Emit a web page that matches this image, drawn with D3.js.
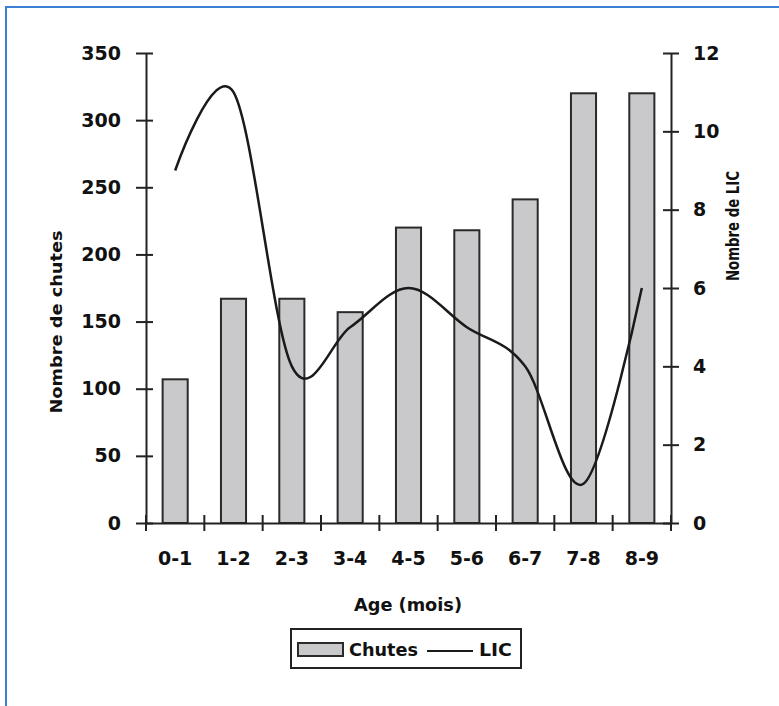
<!DOCTYPE html>
<html><head><meta charset="utf-8">
<script src="https://cdn.jsdelivr.net/npm/d3@7"></script>
<style>
html,body{margin:0;padding:0;background:#fff;}
svg{display:block;}
text{font-family:"DejaVu Sans",sans-serif;font-weight:bold;fill:#111;}
</style></head>
<body>
<svg id="chart" width="779" height="706"></svg>
<script>
const categories = ["0-1","1-2","2-3","3-4","4-5","5-6","6-7","7-8","8-9"];
const chutes = [107, 167, 167, 157, 220, 218, 241, 320, 320];
const lic = [9, 11, 4, 5, 6, 5, 4, 1, 6];
const leftTicks = [0,50,100,150,200,250,300,350];
const rightTicks = [0,2,4,6,8,10,12];

const svg = d3.select("#chart");
const L = 146, R = 671, T = 53, B = 523;

// outer border
svg.append("rect").attr("x",6).attr("y",7).attr("width",800).attr("height",800)
  .attr("fill","none").attr("stroke","#3b80d2").attr("stroke-width",2);

const x = d3.scaleBand().domain(categories).range([L,R]).paddingInner(0.57).paddingOuter(0.285);
const yL = d3.scaleLinear().domain([0,350]).range([B,T]);
const yR = d3.scaleLinear().domain([0,12]).range([B,T]);

// bars
svg.append("g").selectAll("rect").data(categories).join("rect")
  .attr("x", d => x(d))
  .attr("y", (d,i) => yL(chutes[i]))
  .attr("width", x.bandwidth())
  .attr("height", (d,i) => B - yL(chutes[i]))
  .attr("fill","#c9c9cb").attr("stroke","#2a2a2a").attr("stroke-width",2);

// line
const line = d3.line()
  .x((d,i) => x(categories[i]) + x.bandwidth()/2)
  .y(d => yR(d))
  .curve(d3.curveCardinal.tension(0));
svg.append("path").datum(lic).attr("d", line)
  .attr("fill","none").attr("stroke","#1a1a1a").attr("stroke-width",2.5);

// left axis
const gl = svg.append("g").attr("transform",`translate(${L},0)`)
  .call(d3.axisLeft(yL).tickValues(leftTicks).tickSize(0).tickPadding(25));
gl.select(".domain").attr("stroke","#222").attr("stroke-width",2);
gl.selectAll(".tick line").attr("x1",-10).attr("x2",7).attr("stroke","#222").attr("stroke-width",2);
gl.selectAll("text").style("font-size","19px");

// right axis
const gr = svg.append("g").attr("transform",`translate(${R},0)`)
  .call(d3.axisRight(yR).tickValues(rightTicks).tickSize(0).tickPadding(22));
gr.select(".domain").attr("stroke","#222").attr("stroke-width",2);
gr.selectAll(".tick line").attr("x1",-8).attr("x2",8).attr("stroke","#222").attr("stroke-width",2);
gr.selectAll("text").style("font-size","19px");

// bottom axis
const gb = svg.append("g").attr("transform",`translate(0,${B})`)
  .call(d3.axisBottom(x).tickSize(0).tickPadding(29));
gb.select(".domain").attr("stroke","#222").attr("stroke-width",2);
gb.selectAll("text").style("font-size","19px");
// boundary ticks
const bounds = categories.map(c => x(c) - x.step()*x.paddingInner()/2);
bounds.push(R);
gb.selectAll("line.bt").data(bounds).join("line").attr("class","bt")
  .attr("x1",d=>d).attr("x2",d=>d).attr("y1",-8).attr("y2",8)
  .attr("stroke","#222").attr("stroke-width",2);

// axis titles
svg.append("text").attr("transform","translate(56,322) rotate(-90)")
  .attr("text-anchor","middle").attr("dominant-baseline","central")
  .attr("textLength",183).attr("lengthAdjust","spacingAndGlyphs")
  .style("font-size","16px").text("Nombre de chutes");
svg.append("text").attr("transform","translate(733,226) rotate(-90)")
  .attr("text-anchor","middle").attr("dominant-baseline","central")
  .attr("textLength",110).attr("lengthAdjust","spacingAndGlyphs")
  .style("font-size","17px").text("Nombre de LIC");
svg.append("text").attr("x",408).attr("y",611).attr("text-anchor","middle")
  .attr("textLength",108).attr("lengthAdjust","spacingAndGlyphs")
  .style("font-size","17px").text("Age (mois)");

// legend
const lg = svg.append("g");
lg.append("rect").attr("x",291).attr("y",629).attr("width",230).attr("height",39)
  .attr("fill","#fff").attr("stroke","#222").attr("stroke-width",2);
lg.append("rect").attr("x",298).attr("y",643).attr("width",45).attr("height",13)
  .attr("fill","#c9c9cb").attr("stroke","#2a2a2a").attr("stroke-width",2);
lg.append("text").attr("x",349).attr("y",656)
  .attr("textLength",69).attr("lengthAdjust","spacingAndGlyphs")
  .style("font-size","17px").text("Chutes");
lg.append("line").attr("x1",427).attr("x2",473).attr("y1",651).attr("y2",651)
  .attr("stroke","#1a1a1a").attr("stroke-width",2);
lg.append("text").attr("x",479).attr("y",656)
  .attr("textLength",33).attr("lengthAdjust","spacingAndGlyphs")
  .style("font-size","17px").text("LIC");
</script>
</body></html>
